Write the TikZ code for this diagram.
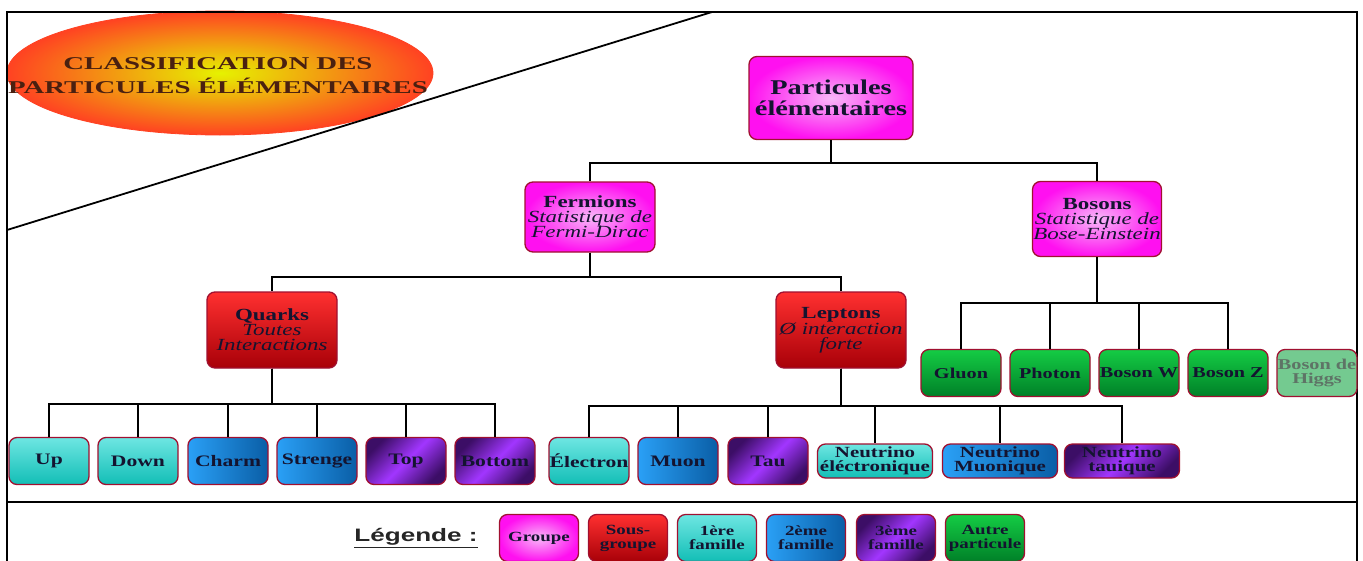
\documentclass[tikz,border=0pt]{standalone}
\usepackage{fontspec}
\setmainfont{Liberation Serif}[FakeStretch=1.35]
\newfontfamily\titrefont{Liberation Serif}[FakeStretch=1.6]
\newfontfamily\legendefont{Liberation Sans}[FakeStretch=1.45]
\usetikzlibrary{shapes.geometric}
\newcommand{\ital}[1]{{\mdseries\itshape #1}}
\definecolor{bord}{HTML}{A01030}
\definecolor{texte}{HTML}{141430}
\definecolor{magc}{HTML}{F8B8F8}
\definecolor{mags}{HTML}{FF10F0}
\definecolor{rougeh}{HTML}{FF3030}
\definecolor{rougeb}{HTML}{A80008}
\definecolor{turh}{HTML}{6EE6E2}
\definecolor{turb}{HTML}{12BEB6}
\definecolor{bleug}{HTML}{2AA0F6}
\definecolor{bleud}{HTML}{0A5EA6}
\definecolor{violc}{HTML}{A236FF}
\definecolor{viols}{HTML}{3C0E66}
\definecolor{verth}{HTML}{14CC44}
\definecolor{vertb}{HTML}{008028}
\definecolor{higgsf}{HTML}{74CA90}
\definecolor{higgst}{HTML}{5E7466}
\definecolor{jaune}{HTML}{E6F200}
\definecolor{orange}{HTML}{FF4222}
\definecolor{titretexte}{HTML}{4A2010}

\tikzset{
  box/.style={rectangle, rounded corners=8pt, draw=bord, line width=1.3pt,
    align=center, inner sep=0pt, text=texte, font=\bfseries},
  groupe/.style={box, inner color=magc, outer color=mags},
  sousgroupe/.style={box, top color=rougeh, bottom color=rougeb},
  fam1/.style={box, top color=turh, bottom color=turb},
  fam2/.style={box, left color=bleug, right color=bleud},
  fam3/.style={box, top color=viols, bottom color=viols, middle color=violc,
    shading angle=45},
  autre/.style={box, top color=verth, bottom color=vertb},
  higgsbox/.style={box, fill=higgsf, text=higgst},
  branche/.style={minimum width=130pt, minimum height=74pt,
    font=\bfseries\fontsize{17}{15}\selectfont},
  feuille/.style={minimum width=80pt, minimum height=47pt,
    font=\bfseries\fontsize{16}{16}\selectfont},
  neutrino/.style={minimum width=115pt, minimum height=34pt,
    font=\bfseries\fontsize{15.5}{14}\selectfont},
  boson/.style={minimum width=80pt, minimum height=47pt,
    font=\bfseries\fontsize{15}{14}\selectfont},
  legbox/.style={minimum width=79pt, minimum height=47pt,
    font=\bfseries\fontsize{14}{14}\selectfont},
  lien/.style={draw=black, line width=1.8pt},
  cadre/.style={draw=black, line width=1.8pt}
}

\begin{document}
\begin{tikzpicture}[x=1pt,y=-1pt]
  \useasboundingbox (0,0) rectangle (1363,560);

  % titre
  \node[ellipse, minimum width=426pt, minimum height=124pt, inner sep=0pt,
    draw=orange, line width=0.8pt, inner color=jaune, outer color=orange]
    (ovale) at (220,73) {};
  \node[text=titretexte, align=center, inner sep=0pt,
    font=\titrefont\bfseries\fontsize{18}{24}\selectfont]
    (titre) at (218,76) {CLASSIFICATION DES\\PARTICULES ÉLÉMENTAIRES};

  % cadre
  \draw[cadre] (7,562) -- (7,12) -- (1357,12) -- (1357,562);
  \draw[cadre] (7,502) -- (1357,502);
  \draw[cadre] (712,12) -- (7,230);

  % groupes
  \node[groupe, minimum width=164pt, minimum height=83pt,
    font=\bfseries\fontsize{21}{21}\selectfont]
    (part) at (831,98) {Particules\\élémentaires};
  \node[groupe, branche, minimum height=70pt] (ferm) at (590,217)
    {Fermions\\\ital{Statistique de}\\\ital{Fermi-Dirac}};
  \node[groupe, branche, minimum width=129pt, minimum height=75pt] (bos) at (1097,219)
    {Bosons\\\ital{Statistique de}\\\ital{Bose-Einstein}};

  % sous-groupes
  \node[sousgroupe, branche, minimum height=76pt] (quarks) at (272,330)
    {Quarks\\\ital{Toutes}\\\ital{Interactions}};
  \node[sousgroupe, branche, minimum height=76pt] (leptons) at (841,330)
    {Leptons\\\ital{Ø interaction}\\\ital{forte}};

  % quarks
  \node[fam1, feuille] (up) at (49,461) {Up};
  \node[fam1, feuille] (down) at (138,461) {Down};
  \node[fam2, feuille] (charm) at (228,461) {Charm};
  \node[fam2, feuille] (strenge) at (317,461) {Strenge};
  \node[fam3, feuille] (top) at (406,461) {Top};
  \node[fam3, feuille] (bottom) at (495,461) {Bottom};

  % leptons
  \node[fam1, feuille] (electron) at (589,461) {Électron};
  \node[fam2, feuille] (muon) at (678,461) {Muon};
  \node[fam3, feuille] (tau) at (768,461) {Tau};
  \node[fam1, neutrino] (nue) at (875,461) {Neutrino\\éléctronique};
  \node[fam2, neutrino] (numu) at (1000,461) {Neutrino\\Muonique};
  \node[fam3, neutrino] (nutau) at (1122,461) {Neutrino\\tauique};

  % bosons
  \node[autre, boson] (gluon) at (961,373) {Gluon};
  \node[autre, boson] (photon) at (1050,373) {Photon};
  \node[autre, boson] (bosw) at (1139,373) {Boson W};
  \node[autre, boson] (bosz) at (1228,373) {Boson Z};
  \node[higgsbox, boson] (higgs) at (1317,373) {Boson de\\Higgs};

  % liens
  \draw[lien] (part.south) -- ++(0,23) -| (ferm.north);
  \draw[lien] (part.south) -- ++(0,23) -| (bos.north);
  \draw[lien] (ferm.south) -- ++(0,24) -| (quarks.north);
  \draw[lien] (ferm.south) -- ++(0,24) -| (leptons.north);

  \draw[lien] (quarks.south) -- ++(0,35) -| (up.north);
  \draw[lien] (quarks.south) -- ++(0,35) -| (down.north);
  \draw[lien] (quarks.south) -- ++(0,35) -| (charm.north);
  \draw[lien] (quarks.south) -- ++(0,35) -| (strenge.north);
  \draw[lien] (quarks.south) -- ++(0,35) -| (top.north);
  \draw[lien] (quarks.south) -- ++(0,35) -| (bottom.north);

  \draw[lien] (leptons.south) -- ++(0,37) -| (electron.north);
  \draw[lien] (leptons.south) -- ++(0,37) -| (muon.north);
  \draw[lien] (leptons.south) -- ++(0,37) -| (tau.north);
  \draw[lien] (leptons.south) -- ++(0,37) -| (nue.north);
  \draw[lien] (leptons.south) -- ++(0,37) -| (numu.north);
  \draw[lien] (leptons.south) -- ++(0,37) -| (nutau.north);

  \draw[lien] (bos.south) -- ++(0,46) -| (gluon.north);
  \draw[lien] (bos.south) -- ++(0,46) -| (photon.north);
  \draw[lien] (bos.south) -- ++(0,46) -| (bosw.north);
  \draw[lien] (bos.south) -- ++(0,46) -| (bosz.north);

  % legende
  \node[text=black!85, font=\legendefont\bfseries\fontsize{18}{18}\selectfont]
    (leg) at (416,538) {\underline{Légende :}};
  \node[groupe, legbox] (lgroupe) at (539,538) {Groupe};
  \node[sousgroupe, legbox] (lsous) at (628,538) {Sous-\\groupe};
  \node[fam1, legbox] (lfam1) at (717,538) {1ère\\famille};
  \node[fam2, legbox] (lfam2) at (806,538) {2ème\\famille};
  \node[fam3, legbox] (lfam3) at (896,538) {3ème\\famille};
  \node[autre, legbox] (lautre) at (985,538) {Autre\\particule};
\end{tikzpicture}
\end{document}
